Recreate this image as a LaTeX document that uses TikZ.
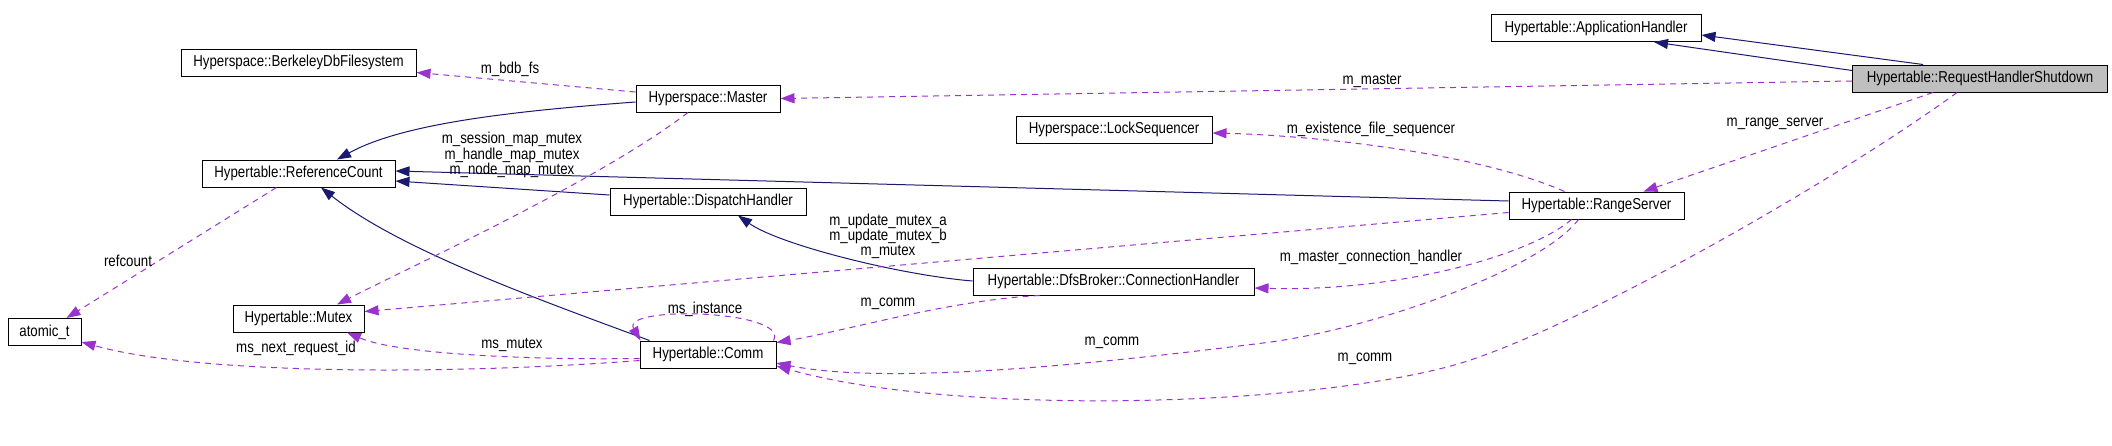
\documentclass[tikz,border=0pt]{standalone}
\usepackage{fontspec}
\setmainfont{Liberation Sans}[FakeStretch=0.84]
\usepackage{tikz}
\usetikzlibrary{arrows.meta}

\definecolor{inheritblue}{RGB}{25,25,112}
\definecolor{usepurple}{RGB}{154,50,205}
\definecolor{curgray}{RGB}{191,191,191}

\tikzset{
  classbox/.style={draw=black, line width=0.5pt, inner xsep=2pt, inner ysep=0pt, minimum height=13.5pt},
  inherit/.style={draw=inheritblue, line width=0.5pt, -{Triangle[length=7pt,width=5pt]}},
  uses/.style={draw=usepurple, line width=0.5pt, dash pattern=on 3pt off 2.5pt, -{Triangle[length=7pt,width=5pt,fill=usepurple]}},
  edgelabel/.style={inner sep=0pt, align=center}
}

\begin{document}
\begin{tikzpicture}[x=0.5pt, y=-0.5pt, font=\fontsize{7.9}{8}\selectfont]
    \useasboundingbox (0,0) rectangle (2112,445);

    % Classes
    \node[classbox, minimum width=105pt] (app) at (1596,28) {Hypertable::ApplicationHandler};
    \node[classbox, minimum width=127.5pt, fill=curgray] (rhs) at (1980,78.5) {Hypertable::RequestHandlerShutdown};
    \node[classbox, minimum width=117.5pt] (bdb) at (298.5,62.5) {Hyperspace::BerkeleyDbFilesystem};
    \node[classbox, minimum width=72pt] (master) at (708,98.5) {Hyperspace::Master};
    \node[classbox, minimum width=98pt] (lock) at (1114,129.5) {Hyperspace::LockSequencer};
    \node[classbox, minimum width=96.5pt] (refc) at (298.5,173.5) {Hypertable::ReferenceCount};
    \node[classbox, minimum width=98pt] (disp) at (708,201.5) {Hypertable::DispatchHandler};
    \node[classbox, minimum width=87.5pt] (range) at (1596.5,205.5) {Hypertable::RangeServer};
    \node[classbox, minimum width=36.5pt] (atomic) at (44.5,332) {atomic\_t};
    \node[classbox, minimum width=65.5pt] (mutex) at (298.5,318.5) {Hypertable::Mutex};
    \node[classbox, minimum width=68pt] (comm) at (708,354.5) {Hypertable::Comm};
    \node[classbox, minimum width=140.5pt] (conn) at (1113.5,281.5) {Hypertable::DfsBroker::ConnectionHandler};

    % Inheritance
    \draw[inherit] ([shift={(-57,0)}]rhs.north) -- ([shift={(0,7)}]app.east);
    \draw[inherit] ([shift={(0,6)}]rhs.north west) -- ([shift={(58,0)}]app.south);
    \draw[inherit] ([shift={(0,3.5)}]master.west) .. controls (500,112) and (400,125) .. ([shift={(38.5,0)}]refc.north);
    \draw[inherit] ([shift={(0,-4.5)}]range.west) -- ([shift={(0,-2.5)}]refc.east);
    \draw[inherit] ([shift={(0,-6.5)}]disp.west) -- ([shift={(0,7.5)}]refc.east);
    \draw[inherit] ([shift={(10,0)}]comm.north west) .. controls (540,300) and (400,250) .. ([shift={(22.5,0)}]refc.south);
    \draw[inherit] ([shift={(0,-0.5)}]conn.west) .. controls (900,275) and (780,245) .. ([shift={(30,0)}]disp.south);

    % Members
    \draw[uses] ([shift={(0,2.5)}]rhs.west) -- (master.east);
    \node[edgelabel] (lmaster) at (1372,81) {m\_master};

    \draw[uses] ([shift={(0,-6.5)}]master.west) -- ([shift={(0,10)}]bdb.east);
    \node[edgelabel] (lbdb) at (510,69) {m\_bdb\_fs};

    \draw[uses] ([shift={(-20,0)}]master.south) .. controls (600,180) and (420,262) .. ([shift={(38.5,0)}]mutex.north);
    \node[edgelabel] (lmastermutex) at (512,155) {m\_session\_map\_mutex\\[-0.1pt]m\_handle\_map\_mutex\\[-0.1pt]m\_node\_map\_mutex};

    \draw[uses] ([shift={(-22,0)}]refc.south) -- ([shift={(22,0)}]atomic.north);
    \node[edgelabel] (lrefcount) at (128,261) {refcount};

    \draw[uses] ([shift={(-32,0)}]range.north) .. controls (1470,150) and (1300,135) .. ([shift={(0,3.5)}]lock.east);
    \node[edgelabel] (llock) at (1371,129) {m\_existence\_file\_sequencer};

    \draw[uses] ([shift={(-47,0)}]rhs.south) -- ([shift={(47,0)}]range.north);
    \node[edgelabel] (lrange) at (1775,124) {m\_range\_server};

    \draw[uses] ([shift={(-23,0)}]rhs.south) .. controls (1830,185) and (1560,338) .. (1447,367)
        .. controls (1290,408) and (950,415) .. ([shift={(0,11.5)}]comm.east);
    \node[edgelabel] (lrhscomm) at (1365,359) {m\_comm};

    \draw[uses] ([shift={(-18,0)}]range.south) .. controls (1540,270) and (1370,330) .. (1263,343)
        .. controls (1150,357) and (900,388) .. ([shift={(0,8.5)}]comm.east);
    \node[edgelabel] (lrangecomm) at (1112,343) {m\_comm};

    \draw[uses] ([shift={(-25,0)}]range.south) .. controls (1530,255) and (1400,292) .. ([shift={(0,6.5)}]conn.east);
    \node[edgelabel] (lconn) at (1371,257) {m\_master\_connection\_handler};

    \draw[uses] ([shift={(0,7)}]range.west) -- ([shift={(0,-7)}]mutex.east);
    \node[edgelabel] (lrangemutex) at (888,236.5) {m\_update\_mutex\_a\\[-0.6pt]m\_update\_mutex\_b\\[-0.6pt]m\_mutex};

    \draw[uses] ([shift={(-74,0)}]conn.south) .. controls (950,300) and (850,330) .. ([shift={(0,-12)}]comm.east);
    \node[edgelabel] (lconncomm) at (888,304) {m\_comm};

    \draw[uses] ([shift={(-3,0)}]comm.north east) .. controls (790,310) and (620,305) .. ([shift={(1,0)}]comm.north west);
    \node[edgelabel] (linstance) at (705,309) {ms\_instance};

    \draw[uses] ([shift={(0,4)}]comm.west) .. controls (540,360) and (400,355) .. ([shift={(48.5,0)}]mutex.south);
    \node[edgelabel] (lmsmutex) at (512,345) {ms\_mutex};

    \draw[uses] ([shift={(0,6)}]comm.west) .. controls (450,375) and (200,375) .. ([shift={(0,10)}]atomic.east);
    \node[edgelabel] (lrequest) at (296,348) {ms\_next\_request\_id};
\end{tikzpicture}
\end{document}
